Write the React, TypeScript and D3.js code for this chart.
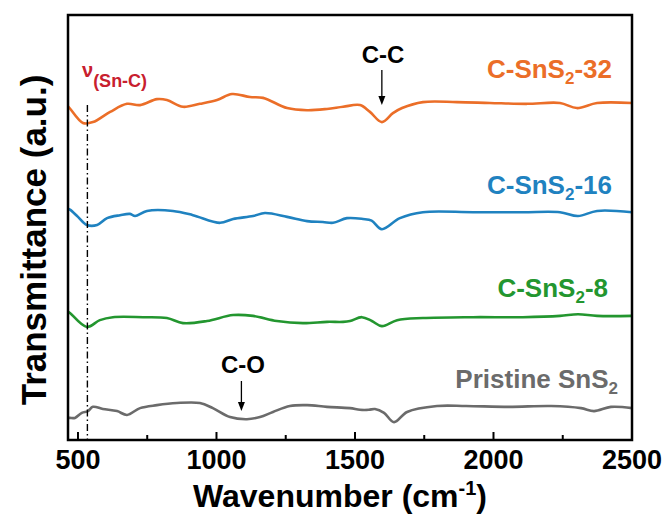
import React from "react";
import * as d3 from "d3";

const W = 665;
const H = 521;

const xTicks = [500, 1000, 1500, 2000, 2500];
const xMinorTicks = [750, 1250, 1750, 2250];

const orange: [number, number][] = [
  [464, 78.5], [471, 78.0], [518, 74.6], [554, 74.8], [616, 77.2], [677, 79.1], [724, 78.8],
  [785, 80.2], [821, 80.0], [879, 78.4], [940, 79.1], [1002, 80.0], [1056, 81.4], [1121, 80.7],
  [1168, 80.5], [1255, 78.1], [1327, 77.6], [1399, 77.9], [1457, 78.4], [1518, 78.8], [1554, 77.2],
  [1597, 74.8], [1637, 76.9], [1670, 78.1], [1745, 79.5], [1868, 79.5], [1987, 79.3], [2121, 79.1],
  [2240, 79.3], [2301, 78.1], [2374, 79.3], [2500, 79.3],
];

const blue: [number, number][] = [
  [464, 54.4], [471, 54.2], [500, 52.5], [532, 50.6], [569, 50.6], [605, 52.2], [652, 52.9],
  [688, 53.2], [706, 52.7], [749, 53.9], [843, 53.9], [915, 52.9], [1013, 51.1], [1060, 52.0],
  [1132, 52.7], [1175, 53.4], [1255, 52.5], [1327, 51.5], [1384, 51.3], [1421, 51.1], [1471, 52.2],
  [1529, 52.0], [1560, 51.6], [1597, 49.6], [1662, 52.2], [1745, 53.6], [1926, 53.6], [2106, 53.6],
  [2240, 53.6], [2305, 52.7], [2374, 53.9], [2500, 53.6],
];

const green: [number, number][] = [
  [464, 30.2], [471, 29.9], [532, 26.6], [579, 28.2], [626, 28.9], [735, 28.9], [821, 28.7],
  [879, 27.5], [966, 28.0], [1060, 29.4], [1132, 29.2], [1218, 28.0], [1312, 27.5], [1399, 27.8],
  [1457, 27.8], [1482, 28.0], [1525, 28.9], [1561, 28.0], [1597, 26.8], [1652, 28.2], [1745, 28.7],
  [1926, 28.9], [2106, 28.9], [2240, 29.2], [2305, 29.6], [2374, 29.2], [2500, 29.2],
];

const gray: [number, number][] = [
  [464, 5.2], [471, 5.2], [489, 5.2], [514, 6.4], [536, 6.8], [554, 7.8], [590, 7.3], [641, 6.8],
  [677, 5.9], [724, 7.5], [785, 8.2], [857, 8.7], [940, 8.7], [987, 7.5], [1049, 5.4], [1110, 4.9],
  [1157, 5.4], [1204, 6.6], [1265, 8.0], [1327, 8.2], [1399, 7.8], [1482, 7.5], [1518, 7.1],
  [1550, 7.1], [1572, 7.3], [1605, 6.4], [1641, 4.2], [1688, 6.6], [1796, 8.0], [1901, 8.0],
  [2056, 7.8], [2208, 8.0], [2316, 7.5], [2363, 6.8], [2424, 7.8], [2500, 7.5],
];

const seriesNames = ["C-SnS2-32", "C-SnS2-16", "C-SnS2-8", "Pristine SnS2"];
const seriesColors = ["#eb6e28", "#1f82c0", "#23962f", "#6b6b6b"];
const seriesData = [orange, blue, green, gray];

const left = 68, right = 632, top = 15, bottom = 440;
const FONT = "'Liberation Sans', Arial, sans-serif";

export default function App() {
  const x = d3.scaleLinear().domain([464, 2500]).range([left, right]);
  const y = d3.scaleLinear().domain([0, 100]).range([bottom, top]);
  const line = d3
    .line<[number, number]>()
    .x((d) => x(d[0]))
    .y((d) => y(d[1]))
    .curve(d3.curveCatmullRom.alpha(0.5));

  const labelY = [78, 194, 297, 388];
  const labelRight = [612, 612, 608, 618];

  const arrow = (cx: number, y1: number, y2: number) => (
    <g>
      <line x1={cx} x2={cx} y1={y1} y2={y2 - 7} stroke="#000" strokeWidth={1.3} />
      <path d={`M${cx - 3.5},${y2 - 9} L${cx + 3.5},${y2 - 9} L${cx},${y2} Z`} fill="#000" />
    </g>
  );

  return (
    <svg width={W} height={H} style={{ position: "absolute", left: 0, top: 0, background: "#fff" }} fontFamily={FONT}>
      <rect x={0} y={0} width={W} height={H} fill="#fff" />
      {seriesData.map((d, i) => (
        <path key={i} d={line(d) || ""} fill="none" stroke={seriesColors[i]} strokeWidth={2.6} strokeLinejoin="round" />
      ))}
      <line x1={x(534)} x2={x(534)} y1={105} y2={bottom} stroke="#000" strokeWidth={1.4} strokeDasharray="7,3,1.5,3" />
      <rect x={left} y={top} width={right - left} height={bottom - top} fill="none" stroke="#000" strokeWidth={2.5} />
      {xTicks.map((t) => (
        <g key={t}>
          <line x1={x(t)} x2={x(t)} y1={bottom} y2={bottom - 8} stroke="#000" strokeWidth={2} />
          <text x={x(t)} y={469} textAnchor="middle" fontSize={27} fontWeight="bold">{t}</text>
        </g>
      ))}
      {xMinorTicks.map((t) => (
        <line key={t} x1={x(t)} x2={x(t)} y1={bottom} y2={bottom - 5} stroke="#000" strokeWidth={2} />
      ))}
      <text x={340} y={507} textAnchor="middle" fontSize={32} fontWeight="bold">
        Wavenumber (cm<tspan dy={-12} fontSize={20}>-1</tspan><tspan dy={12}>)</tspan>
      </text>
      <text transform={`translate(46,240) rotate(-90)`} textAnchor="middle" fontSize={35} fontWeight="bold">
        Transmittance (a.u.)
      </text>
      {seriesNames.map((n, i) => {
        const parts = n.split("SnS2");
        return (
          <text key={n} x={labelRight[i]} y={labelY[i]} textAnchor="end" fontSize={26} fontWeight="bold" fill={seriesColors[i]}>
            {parts[0]}SnS<tspan dy={6} fontSize={17}>2</tspan><tspan dy={-6}>{parts[1]}</tspan>
          </text>
        );
      })}
      <text x={82} y={77} fontSize={20} fontWeight="bold" fill="#c8202e">
        ν<tspan dy={10} fontSize={18}>(Sn-C)</tspan>
      </text>
      <text x={383} y={63} textAnchor="middle" fontSize={24} fontWeight="bold">C-C</text>
      {arrow(x(1597), 70, 105)}
      <text x={243} y={373} textAnchor="middle" fontSize={24} fontWeight="bold">C-O</text>
      {arrow(x(1090), 381, 411)}
    </svg>
  );
}
